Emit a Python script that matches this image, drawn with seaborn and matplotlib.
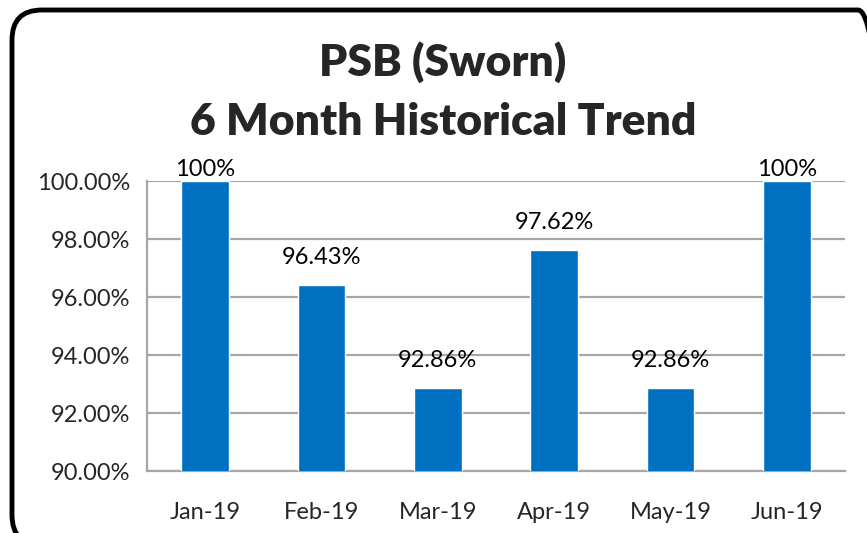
"""
PSB (Sworn) 6 month historical trend bar chart.
"""

import matplotlib
matplotlib.use("Agg")
import matplotlib.pyplot as plt
from matplotlib.patches import FancyBboxPatch
from matplotlib.transforms import IdentityTransform
from matplotlib.ticker import FuncFormatter, FixedLocator
import seaborn as sns
import pandas as pd

# Data
months = ["Jan-19", "Feb-19", "Mar-19", "Apr-19", "May-19", "Jun-19"]
rates = [100.0, 96.43, 92.86, 97.62, 92.86, 100.0]
rate_labels = ["100%", "96.43%", "92.86%", "97.62%", "92.86%", "100%"]
y_ticks = [90, 92, 94, 96, 98, 100]

BAR_COLOR = "#0070C0"
GRID_COLOR = "#A6A6A6"
FS = 17

sns.set_theme(style="white")
plt.rcParams["font.family"] = ["Lato", "DejaVu Sans"]

df = pd.DataFrame({"month": months, "rate": rates})

fig = plt.figure(figsize=(8.67, 5.33), dpi=100)
ax = fig.add_axes([0.1696, 0.1163, 0.805, 0.5441])

sns.barplot(data=df, x="month", y="rate", color=BAR_COLOR, width=0.41,
            saturation=1, ax=ax, zorder=3)

ax.set_ylim(90, 100)
ax.set_xlim(-0.5, len(months) - 0.5)
ax.yaxis.set_major_locator(FixedLocator(y_ticks))
ax.yaxis.set_major_formatter(FuncFormatter(lambda v, p: f"{v:.2f}%"))
ax.grid(axis="y", color=GRID_COLOR, linewidth=1.6, zorder=0)
ax.set_axisbelow(True)

# category separator ticks on the x axis
ax.set_xticks(range(len(months)))
ax.set_xticks([i - 0.5 for i in range(len(months) + 1)], minor=True)
ax.tick_params(axis="x", which="major", length=0, pad=22, labelsize=FS)
ax.tick_params(axis="x", which="minor", length=8, width=1.6,
               color=GRID_COLOR, direction="out")
ax.tick_params(axis="y", length=8, width=1.6, color=GRID_COLOR,
               direction="out", pad=4, labelsize=FS)
ax.set_xlabel("")
ax.set_ylabel("")

for side in ["top", "right"]:
    ax.spines[side].set_visible(False)
for side in ["left", "bottom"]:
    ax.spines[side].set_color(GRID_COLOR)
    ax.spines[side].set_linewidth(1.6)

# data labels: full bars get a tighter offset
bars = ax.containers[0]
top_labels = [lab if r >= 100 else "" for lab, r in zip(rate_labels, rates)]
other_labels = [lab if r < 100 else "" for lab, r in zip(rate_labels, rates)]
ax.bar_label(bars, labels=other_labels, padding=12, fontsize=FS, color="black")
ax.bar_label(bars, labels=top_labels, padding=1, fontsize=FS, color="black")

fig.text(0.511, 0.884, "PSB (Sworn)", ha="center", va="center",
         fontsize=32, fontweight="heavy")
fig.text(0.511, 0.771, "6 Month Historical Trend", ha="center", va="center",
         fontsize=32, fontweight="heavy")

# rounded chart border in pixel space, partly off the canvas
border = FancyBboxPatch((12, -12), 876, 535,
                        boxstyle="round,pad=0,rounding_size=30",
                        transform=IdentityTransform(), fill=False,
                        edgecolor="black", linewidth=3.5)
fig.patches.append(border)

fig.savefig("out.png", dpi=100)
